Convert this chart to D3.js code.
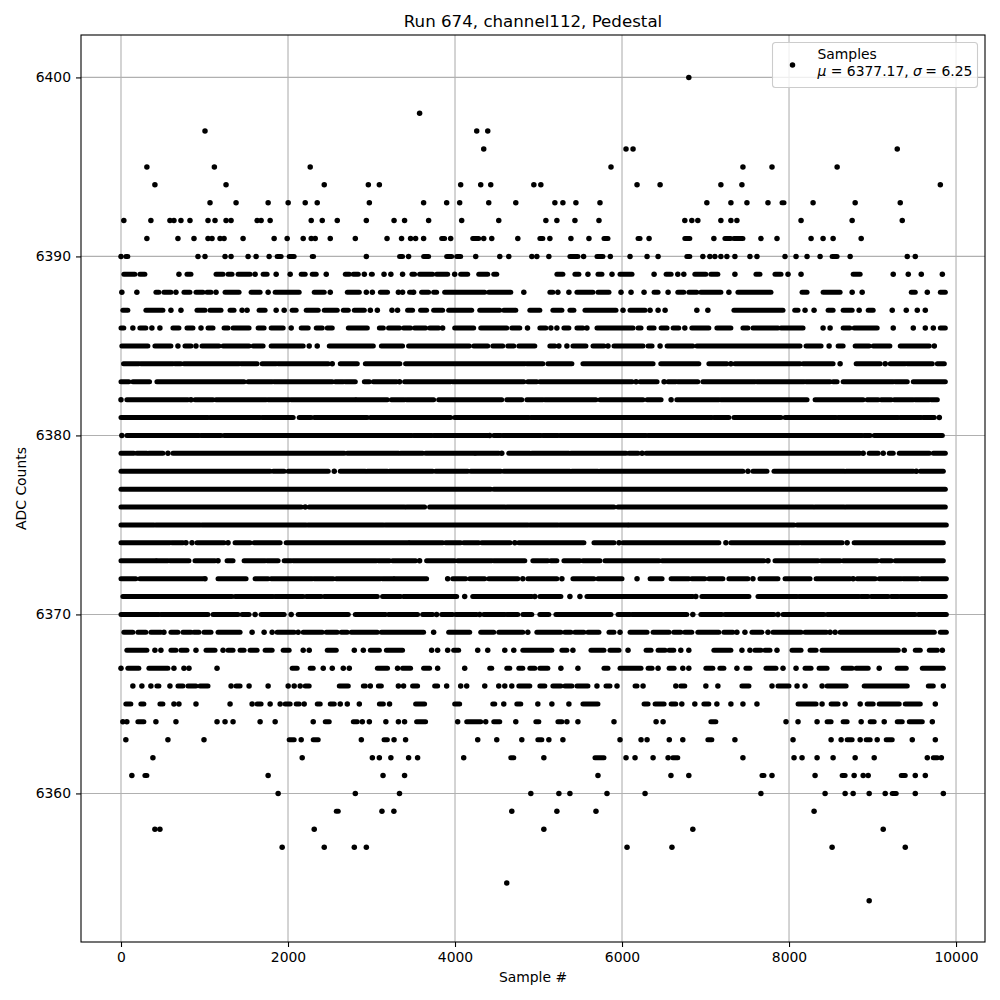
<!DOCTYPE html>
<html>
<head>
<meta charset="utf-8">
<script src="https://cdn.jsdelivr.net/npm/d3@7"></script>
<style>
body { margin: 0; background: #fff; }
text { font-family: "DejaVu Sans"; fill: #000; }
</style>
</head>
<body>
<script>
// samples per ADC level
// a plain number is one dot, a pair is a run of touching dots from sample a to sample b
var r6400 = [6800];
var r6398 = [3576];
var r6397 = [1006, 4260, 4392];
var r6396 = [4344, 6048, 6132, 9296];
var r6395 = [310, 1118, 2266, 5868, 7448, 7796, 8576];
var r6394 = [406, 1258, 2434, 2962, 3094, 4068, 4308, 4428, 4944, 5028, 6180, 6456, 7184, 7436, 9812];
var r6393 = [1066, 1378, 1762, 2002, 2206, 2350, 2974, 3624, 3900, 4056, 4404, 4728, 5196, 5292, 5448, 5736, 7016, 7304, 7496, 7748, [7916, 7940], 8288, 8792, 9332];
var r6392 = [34, 358, 586, 634, 718, 826, 1042, 1126, 1258, 1318, 1630, 1678, 1786, 2278, 2410, 2590, 2938, 3270, 3396, 3684, 4080, 4524, 5088, 5220, 5436, 5724, 6752, 6836, 6908, 7184, 7304, 7376, 8144, 8756, 9356];
var r6391 = [310, 682, 874, 1042, 1090, 1186, 1234, 1462, 1834, 1990, 2182, 2278, 2326, 2506, 2806, 3186, 3360, 3468, 3528, 3624, [3840, 3876], 3948, [4212, 4284], 4344, 4440, 4752, [5016, 5052], 5136, 5388, 5604, [5784, 5832], [6192, 6216], 6324, [6752, 6812], 7100, [7232, 7300], [7340, 7448], 7664, 7856, 8264, 8408, 8528, 8864];
var r6390 = [0, [58, 82], 922, 1006, 1246, 1318, 1522, 1618, 1774, [1870, 1918], [2014, 2074], [2290, 2306], 2938, [3336, 3372], 3444, [3624, 3684], [3900, 3960], [4020, 4068], 4248, 4536, 4644, 4920, 4980, 5124, [5376, 5472], 5540, [5700, 5772], 5860, 6096, 6300, 6432, [6776, 6812], 6968, 7052, 7112, 7184, 7256, 7352, 7532, 7616, 7952, 8084, 8216, 8372, [8516, 8576], 8732, 9416, 9512];
var r6389 = [[34, 166], [226, 286], 694, [790, 838], [1138, 1222], [1282, 1330], [1402, 1546], 1606, [1702, 1750], 1858, 2026, [2158, 2206], [2290, 2338], 2458, [2686, 2734], [2782, 2842], 2914, [2998, 3010], 3150, 3232, 3372, [3484, 3516], [3576, 3732], [3780, 3912], 3996, [4068, 4152], [4284, 4392], [4464, 4500], [5220, 5292], [5436, 5484], 5592, [5712, 5760], 5880, [5976, 6120], 6384, [6528, 6588], 6668, 6740, [6872, 7004], [7064, 7148], 7352, [7604, 7652], [7832, 7904], 7988, 8144, [8768, 8852], 9248, 9428, 9584, 9836];
var r6388 = [10, 190, [418, 454], [514, 598], 658, [754, 826], [898, 982], [1030, 1078], 1138, [1246, 1414], [1558, 1666], 1762, [1846, 2134], [2314, 2434], 2506, [2710, 2854], 2938, 3010, [3106, 3192], 3322, 3372, [3456, 3480], 3504, [3600, 3684], [3744, 3780], [3876, 4356], [4404, 4668], 4824, [5136, 5172], 5232, 5364, [5460, 5652], [5712, 5844], 5988, 6108, 6264, [6384, 6432], 6552, [6668, 6740], [6800, 6896], [6944, 7184], 7280, [7388, 7784], [8156, 8216], [8408, 8612], 8756, 8876, [9464, 9512], 9656, [9812, 9872]];
var r6387 = [[22, 82], [298, 502], 598, 718, [910, 1006], [1066, 1198], [1306, 1354], 1450, 1510, [1654, 1726], 1858, 1954, [2050, 2098], [2218, 2362], [2434, 2590], [2662, 2722], [2794, 2914], 2986, 3070, 3245, 3312, [3432, 3492], [3588, 3660], [3744, 3852], [3924, 4200], [4296, 4536], [4584, 4728], [4896, 5016], [5172, 5280], [5376, 5424], [5556, 5928], 6012, [6096, 6276], 6336, 6432, 6516, 6896, 7028, [7340, 7928], [8068, 8108], 8192, 8300, [8468, 8528], [8648, 8756], 8840, [8948, 9008], 9236, 9404, 9536, 9632];
var r6386 = [[0, 34], 142, [226, 298], 370, 466, [622, 694], [790, 862], 958, [1042, 1102], [1234, 1282], [1342, 1534], [1642, 1714], [1798, 1942], 2038, [2158, 2242], [2338, 2410], [2470, 2530], [2722, 2950], [3094, 3142], [3204, 3336], [3384, 3468], [3516, 3648], [3696, 3804], 3852, [3996, 4224], [4308, 4620], [4680, 4776], 4868, [5016, 5088], 5148, 5220, [5304, 5364], [5460, 5532], 5580, [5700, 6132], [6192, 6228], [6324, 6384], [6468, 6540], [6612, 6680], 6752, [6836, 7040], [7136, 7304], [7448, 7508], [7568, 7868], [7904, 8168], 8408, 8492, [8648, 8728], [8780, 9056], 9248, 9488, 9632, 9728, [9812, 9872]];
var r6385 = [[10, 322], [406, 598], 682, [766, 838], 898, [970, 1174], [1222, 1534], [1582, 1702], [1798, 2182], 2254, 2350, [2494, 3022], [3118, 3372], [3444, 4172], [4224, 4392], [4452, 4572], [4632, 4704], [4764, 4956], [5136, 5196], 5244, 5340, [5412, 5568], [5652, 5784], 5832, [5904, 6252], [6312, 6360], 6456, [6540, 6848], [6896, 8132], [8204, 8384], 8480, [8588, 8648], [8792, 8960], [9008, 9208], [9332, 9680], 9740];
var r6384 = [[30, 214], [238, 622], [646, 718], [754, 1414], [1438, 1630], [1690, 1858], [1882, 2482], 2530, [2626, 2830], [2926, 3340], [3408, 4836], [4860, 5052], [5112, 5400], [5532, 6372], [6464, 6920], [7040, 7256], 7304, [7352, 8132], [8168, 8528], 8612, [8804, 9092], 9152, [9212, 9392], [9416, 9716], [9776, 9860]];
var r6383 = [[0, 94], [142, 342], [430, 1474], [1522, 1810], [1834, 2530], [2566, 2662], [2686, 2806], [2914, 2974], [3022, 3300], 3336, [3396, 3948], [3972, 4824], [4872, 4980], [5016, 6120], 6168, [6216, 6420], 6504, [6552, 6644], [6668, 6908], [6968, 7592], [7616, 8180], [8204, 8492], [8528, 8576], [8648, 9248], [9272, 9416], [9488, 9872]];
var r6382 = [0, [70, 802], 838, [886, 1102], [1138, 1738], [1762, 2014], [2038, 2806], [2818, 3190], [3238, 3396], [3420, 3744], [3804, 4560], [4620, 4800], [4860, 5052], [5076, 5688], [5736, 6252], [6300, 6468], 6588, [6656, 7160], [7184, 8216], [8312, 8888], [8936, 9068], [9104, 9224], [9260, 9488], [9512, 9680], [9704, 9776]];
var r6381 = [[0, 1042], [1066, 1666], [1690, 2062], [2134, 2278], [2314, 2950], [2986, 3948], [3996, 4884], [4908, 7076], [7100, 7280], [7340, 7904], [7952, 8564], [8588, 9308], [9332, 9584], [9608, 9740], 9800];
var r6380 = [10, [70, 934], [958, 1198], [1234, 3480], [3504, 3720], [3744, 4392], 4416, [4464, 4548], [4572, 5028], [5052, 5232], [5256, 5856], [5868, 6288], [6312, 8876], [8900, 8972], [9020, 9836]];
var r6379 = [[0, 154], [190, 310], [334, 502], 562, [622, 2674], [2710, 3324], [3348, 3612], [3648, 4236], [4248, 4524], 4560, [4644, 4896], [4920, 5364], [5388, 6048], [6084, 6192], 6240, [6288, 8848], 8888, [8960, 9068], 9128, [9200, 9248], [9320, 9680], [9728, 9872]];
var r6378 = [[0, 1786], [1822, 1954], [2002, 2482], 2554, [2626, 2926], [2950, 3190], [3216, 3732], [3768, 4152], [4188, 4548], [4584, 5376], [5400, 5712], [5736, 7448], 7508, [7568, 7736], [7820, 8660], [8684, 9488], 9524, [9572, 9848]];
var r6377 = [[0, 4428], [4464, 9872]];
var r6376 = [[0, 2158], 2206, [2254, 3396], [3420, 3636], [3696, 4596], [4620, 5904], [5952, 8288], [8312, 8660], [8684, 9872]];
var r6375 = [[0, 394], [418, 946], [970, 2218], [2242, 3142], [3166, 4872], [4896, 5232], [5256, 6068], [6084, 8060], [8096, 9884]];
var r6374 = [[0, 586], [610, 742], 778, 850, [910, 1234], 1282, [1366, 1546], [1594, 1906], [1978, 3444], [3456, 3852], [3888, 4068], [4104, 4284], [4320, 4660], 4716, [4764, 5544], [5664, 5904], 5964, [6012, 7160], 7244, [7304, 8120], [8144, 8636], 8696, [8780, 9848]];
var r6373 = [[0, 418], [430, 562], [586, 814], [886, 1126], 1162, [1270, 1342], [1474, 1726], [1750, 1882], [1954, 2038], [2062, 3058], [3082, 3216], [3252, 3528], 3576, [3660, 3996], [4032, 4440], [4464, 4836], [4932, 5112], [5148, 5220], [5304, 5496], [5532, 5736], [5796, 6444], [6480, 7700], 7748, [7832, 8348], [8384, 8612], [8648, 9056], [9104, 9224], [9272, 9848]];
var r6372 = [[0, 178], [226, 982], 1006, [1162, 1498], [1606, 1762], [1798, 2290], [2314, 2542], [2578, 3106], [3130, 3264], [3276, 3660], 3912, [3972, 4128], [4176, 4356], [4404, 4752], 4812, [4872, 5220], 5280, [5412, 5664], [5712, 6000], 6180, [6336, 6480], [6588, 6800], [6836, 6992], [7040, 7208], [7280, 7508], 7568, [7652, 7868], [7952, 8252], [8324, 8732], 8768, [8816, 9032], [9080, 9344], [9368, 9548], [9584, 9884]];
var r6371 = [[22, 1030], [1042, 1330], [1366, 1822], [1846, 2182], [2218, 2398], [2434, 3070], [3132, 3348], [3384, 4020], 4116, [4212, 4920], 4956, [5016, 5268], 5376, 5496, [5580, 6848], 6884, [6956, 7520], [7628, 8096], [8120, 8840], [8864, 8948], [8984, 9188], [9224, 9308], [9332, 9872]];
var r6370 = [[0, 454], [478, 1042], [1102, 1402], [1450, 1534], 1606, [1678, 1954], 2038, [2122, 2722], [2806, 3168], [3204, 3552], [3612, 3732], 3780, [3840, 3972], [4008, 4260], 4296, [4344, 4596], [4620, 4752], [4812, 4920], [5016, 5124], [5208, 5868], [5952, 6096], [6120, 6776], 6848, [6944, 7196], [7232, 7820], 7868, [7928, 8420], [8456, 9512], [9548, 9884]];
var r6369 = [[34, 142], [202, 298], [358, 478], 514, [598, 682], [742, 838], [874, 934], [994, 1078], [1162, 1426], 1570, 1714, 1810, [1870, 2074], 2122, [2182, 2410], [2458, 2590], [2638, 2710], [2758, 3070], [3118, 3624], 3744, [3924, 4176], [4308, 4464], [4524, 4812], 4872, [4980, 5268], [5316, 5388], [5436, 5544], [5592, 5724], [5844, 5904], 5976, [6096, 6300], [6372, 6564], [6620, 6704], [6752, 6836], [6908, 7160], [7220, 7328], 7376, 7472, [7556, 7676], 7748, [7808, 8144], [8192, 8448], 8492, 8552, [8612, 9740], [9812, 9884]];
var r6368 = [[70, 310], 406, 478, [598, 658], [718, 790], 898, [1018, 1126], 1222, [1282, 1342], [1426, 1474], [1546, 1630], [1726, 1810], [1942, 2014], 2182, 2254, [2470, 2578], 2794, 2902, [2986, 3094], [3178, 3372], 3720, 3792, 3912, [3984, 4044], 4272, 4392, 4596, 4704, [4812, 5160], [5280, 5340], 5412, [5628, 5784], [5856, 5964], 6072, [6288, 6348], [6432, 6516], [6564, 6620], 6704, 6800, [7100, 7304], 7436, 7532, [7592, 7664], [7712, 7772], 7856, [8036, 8144], [8252, 8324], [8396, 9308], 9380, [9512, 9572], [9680, 9776], 9836];
var r6367 = [0, [82, 214], [334, 562], 634, 754, 814, 1150, [2050, 2110], [2266, 2302], 2422, 2530, 2662, 2734, [3070, 3192], 3312, [3372, 3468], [3624, 3696], 3792, 4116, [4416, 4440], [4620, 4656], [4764, 4812], [4896, 4956], [5016, 5112], 5268, 5472, [5784, 5832], [5976, 6228], [6312, 6360], 6432, [6564, 6624], 6728, 6800, [7004, 7088], [7172, 7220], 7376, [7484, 7532], [7724, 7844], 7928, 8084, [8192, 8264], [8360, 8456], [8648, 8756], [8804, 8948], 9080, [9296, 9404], [9596, 9848]];
var r6366 = [142, 250, 358, [430, 454], 586, [682, 742], [802, 898], [946, 1042], 1318, [1378, 1426], 1534, 1762, 2002, 2074, 2146, [2206, 2254], [2614, 2722], [2902, 2926], 2986, [3082, 3118], 3322, 3384, [3492, 3552], [3756, 3792], 3900, 4068, 4140, 4356, 4524, 4596, 4680, [4764, 4896], [5016, 5076], [5172, 5268], [5316, 5400], [5460, 5592], 5700, [5808, 5856], 5940, [6156, 6180], 6252, 6644, [6704, 6752], 7004, 7148, [7436, 7520], 7796, [7868, 8000], 8096, 8192, 8396, [8456, 8684], [8900, 9416], [9668, 9728], 9848];
var r6365 = [[58, 118], [238, 274], [466, 502], 634, 694, 898, 1306, 1570, [1630, 1678], 1786, 1906, [1966, 2026], [2098, 2134], 2194, [2350, 2386], [2506, 2554], 2626, 2710, 2854, [3094, 3142], 3216, [3528, 3636], [3996, 4056], [4452, 4476], 4584, [4740, 4788], 4992, 5160, 5364, [5532, 5712], [6264, 6312], [6396, 6504], [6588, 6644], 6716, 6872, [6980, 7040], 7136, 7304, 7448, 7616, [8108, 8324], 8396, [8504, 8588], 8672, 8852, [8936, 9008], [9080, 9320], [9392, 9572], 9752];
var r6364 = [22, 70, [202, 274], 418, 658, 1150, 1246, 1342, 1666, 1846, 2302, [2446, 2494], [2782, 2830], 2890, 2974, 3172, 3322, 3396, [3540, 3648], 4032, [4140, 4308], 4368, [4464, 4536], 4728, [4968, 5004], [5232, 5280], 5340, 5472, 5904, 6408, 6492, [7064, 7124], 7964, 8108, 8336, [8456, 8504], [8648, 8696], 8864, [8972, 9020], 9140, [9296, 9356], [9440, 9596], 9716];
var r6363 = [58, 562, 994, [2014, 2074], 2158, [2302, 2362], 2878, [3150, 3190], 3270, 3408, 4272, 4500, 4800, [4992, 5040], 5124, 5292, 5976, 6228, 6300, 6566, 6728, [7028, 7076], 7352, 8048, 8504, 8624, [8696, 8756], 8852, [8924, 8972], 9056, [9164, 9236], 9476, 9752];
var r6362 = [382, 2170, 3010, 3094, 3232, 3444, 3552, 4104, [4668, 4704], 5064, [5676, 5784], 6048, 6156, 6372, 6552, [6608, 6668], 7448, 8060, 8156, 8336, 8528, 8792, 9020, 9656, [9728, 9776], 9824];
var r6361 = [130, [286, 310], 1762, 3138, 3396, 5712, 6586, 6800, [7676, 7700], 7796, 8312, [8636, 8672], 8780, 8888, 8948, [9344, 9392], 9512, 9632];
var r6360 = [1882, 2806, 3335, 4908, 5244, 5376, 5820, 6276, 7664, 8432, 8672, 8768, 8960, 9152, [9236, 9284], 9512, 9848];
var r6359 = [[2578, 2602], 3125, 3268, 4680, 5220, 5688, 8300];
var r6358 = [406, 466, 2314, 5064, 6848, 9128];
var r6357 = [1930, 2434, 2794, 2938, 6060, 6598, 8516, 9392];
var r6355 = [4620];
var r6354 = [8960];

var levels = [6400, 6398, 6397, 6396, 6395, 6394, 6393, 6392, 6391, 6390, 6389, 6388, 6387, 6386, 6385, 6384, 6383, 6382, 6381, 6380, 6379, 6378, 6377, 6376, 6375, 6374, 6373, 6372, 6371, 6370, 6369, 6368, 6367, 6366, 6365, 6364, 6363, 6362, 6361, 6360, 6359, 6358, 6357, 6355, 6354];
var levelRuns = [r6400, r6398, r6397, r6396, r6395, r6394, r6393, r6392, r6391, r6390, r6389, r6388, r6387, r6386, r6385, r6384, r6383, r6382, r6381, r6380, r6379, r6378, r6377, r6376, r6375, r6374, r6373, r6372, r6371, r6370, r6369, r6368, r6367, r6366, r6365, r6364, r6363, r6362, r6361, r6360, r6359, r6358, r6357, r6355, r6354];

var xTicks = [0, 2000, 4000, 6000, 8000, 10000];
var yTicks = [6360, 6370, 6380, 6390, 6400];

var margin = {top: 35, right: 15, bottom: 58, left: 81};
var width = 1000 - margin.left - margin.right;
var height = 1000 - margin.top - margin.bottom;
var dotR = 2.75;
var runWidth = 5;

var svg = d3.select("body").append("svg")
    .attr("width", 1000)
    .attr("height", 1000)
    .style("display", "block");

var g = svg.append("g")
    .attr("transform", "translate(" + margin.left + "," + margin.top + ")");

var xScale = d3.scaleLinear().domain([-479, 10347]).range([0, width]);
var yScale = d3.scaleLinear().domain([6351.7, 6402.37]).range([height, 0]);

// grid
g.selectAll(".vgrid").data(xTicks).enter().append("line")
    .attr("x1", function(d) { return xScale(d); })
    .attr("x2", function(d) { return xScale(d); })
    .attr("y1", 0).attr("y2", height)
    .attr("stroke", "#b0b0b0").attr("stroke-width", 1.1);
g.selectAll(".hgrid").data(yTicks).enter().append("line")
    .attr("x1", 0).attr("x2", width)
    .attr("y1", function(d) { return yScale(d); })
    .attr("y2", function(d) { return yScale(d); })
    .attr("stroke", "#b0b0b0").attr("stroke-width", 1.1);

// split numbers (single dots) and pairs (runs)
var dots = [], runs = [];
levels.forEach(function(level, i) {
    levelRuns[i].forEach(function(r) {
        if (Array.isArray(r)) runs.push({y: level, a: r[0], b: r[1]});
        else dots.push({y: level, x: r});
    });
});

g.selectAll(".run").data(runs).enter().append("line")
    .attr("class", "run")
    .attr("x1", function(d) { return xScale(d.a); })
    .attr("x2", function(d) { return xScale(d.b); })
    .attr("y1", function(d) { return yScale(d.y); })
    .attr("y2", function(d) { return yScale(d.y); })
    .attr("stroke", "#000")
    .attr("stroke-width", runWidth)
    .attr("stroke-linecap", "round");

g.selectAll(".dot").data(dots).enter().append("circle")
    .attr("class", "dot")
    .attr("cx", function(d) { return xScale(d.x); })
    .attr("cy", function(d) { return yScale(d.y); })
    .attr("r", dotR)
    .attr("fill", "#000");

// axes
var xAxis = d3.axisBottom(xScale).tickValues(xTicks).tickSize(5).tickPadding(5).tickFormat(d3.format("d"));
var yAxis = d3.axisLeft(yScale).tickValues(yTicks).tickSize(5).tickPadding(5).tickFormat(d3.format("d"));

var gx = g.append("g").attr("transform", "translate(0," + height + ")").call(xAxis);
var gy = g.append("g").call(yAxis);
gx.selectAll("text").attr("font-size", "13.9px").attr("font-family", "DejaVu Sans");
gy.selectAll("text").attr("font-size", "13.9px").attr("font-family", "DejaVu Sans");
gx.selectAll("line").attr("stroke-width", 1.1);
gy.selectAll("line").attr("stroke-width", 1.1);
gx.select(".domain").remove();
gy.select(".domain").remove();

g.append("rect")
    .attr("width", width).attr("height", height)
    .attr("fill", "none").attr("stroke", "#000").attr("stroke-width", 1.1);

// titles
svg.append("text").attr("x", margin.left + width / 2).attr("y", 27)
    .attr("text-anchor", "middle").attr("font-size", "16.67px")
    .text("Run 674, channel112, Pedestal");
svg.append("text").attr("x", margin.left + width / 2).attr("y", 982)
    .attr("text-anchor", "middle").attr("font-size", "13.9px")
    .text("Sample #");
svg.append("text").attr("transform", "translate(26," + (margin.top + height / 2) + ") rotate(-90)")
    .attr("text-anchor", "middle").attr("font-size", "13.9px")
    .text("ADC Counts");

// legend
var legend = svg.append("g").attr("transform", "translate(772.5,42.5)");
legend.append("rect")
    .attr("width", 205).attr("height", 45).attr("rx", 3)
    .attr("fill", "#fff").attr("fill-opacity", 0.8)
    .attr("stroke", "#ccc").attr("stroke-width", 1.1);
legend.append("circle").attr("cx", 20).attr("cy", 22.5).attr("r", dotR).attr("fill", "#000");
legend.append("text").attr("x", 45).attr("y", 16.5).attr("font-size", "13.9px").text("Samples");
var line2 = legend.append("text").attr("x", 45).attr("y", 33.5).attr("font-size", "13.9px");
line2.append("tspan").attr("font-style", "italic").text("\u03bc");
line2.append("tspan").text(" = 6377.17, ");
line2.append("tspan").attr("font-style", "italic").text("\u03c3");
line2.append("tspan").attr("dx", "-1").text(" = 6.25");
</script>
</body>
</html>
